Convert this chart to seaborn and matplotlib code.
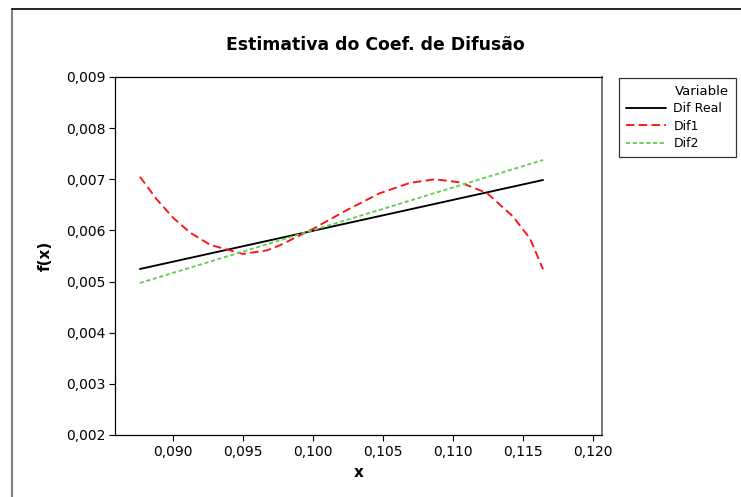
import pandas as pd
import numpy as np
import seaborn as sns
import matplotlib.pyplot as plt
from matplotlib.lines import Line2D
from matplotlib.ticker import FuncFormatter, MultipleLocator

# ---------------- data ----------------
x_real = [0.08764, 0.11643]
dif_real = [0.005246, 0.006986]

x_dif1 = [0.08764, 0.0888, 0.0900, 0.09121, 0.09264, 0.0950, 0.09671, 0.09764, 0.1000,
          0.10243, 0.10479, 0.10693, 0.10871, 0.1105, 0.11243, 0.11429, 0.1155, 0.11643]
dif1 = [0.00705, 0.00662, 0.00625, 0.00596, 0.00572, 0.00554, 0.00561, 0.00571, 0.00603,
        0.00640, 0.00673, 0.00693, 0.00700, 0.00694, 0.00673, 0.00627, 0.00584, 0.00524]

x_dif2 = [0.08764, 0.11643]
dif2 = [0.004972, 0.007377]

series_names = ["Dif Real", "Dif1", "Dif2"]
colors = {"Dif Real": "black", "Dif1": "#FF1010", "Dif2": "#66CC55"}
dash_styles = {"Dif Real": "", "Dif1": (4.5, 2.3), "Dif2": (2.2, 1.4)}

df = pd.concat([
    pd.DataFrame({"x": x_real, "f(x)": dif_real, "Variable": "Dif Real"}),
    pd.DataFrame({"x": x_dif1, "f(x)": dif1, "Variable": "Dif1"}),
    pd.DataFrame({"x": x_dif2, "f(x)": dif2, "Variable": "Dif2"}),
], ignore_index=True)

# ---------------- plot ----------------
sns.set_style("ticks")
plt.rcParams["font.family"] = ["DejaVu Sans"]
plt.rcParams["text.color"] = "black"
plt.rcParams["axes.labelcolor"] = "black"

fig = plt.figure(figsize=(7.41, 4.97), dpi=100)
ax = fig.add_axes([115 / 741, 62 / 497, 487 / 741, 358 / 497])

sns.lineplot(data=df, x="x", y="f(x)", hue="Variable", style="Variable",
             hue_order=series_names, style_order=series_names,
             palette=colors, dashes=dash_styles, linewidth=1.35,
             sort=False, ax=ax)

ax.set_xlim(0.08586, 0.12064)
ax.set_ylim(0.002, 0.009)
ax.xaxis.set_major_locator(MultipleLocator(0.005))
ax.yaxis.set_major_locator(MultipleLocator(0.001))
comma = FuncFormatter(lambda v, pos: f"{v:.3f}".replace(".", ","))
ax.xaxis.set_major_formatter(comma)
ax.yaxis.set_major_formatter(comma)
ax.tick_params(axis="both", direction="out", length=4, width=0.8,
               labelsize=10, pad=3, colors="black")

for side in ["left", "bottom", "top"]:
    ax.spines[side].set_visible(True)
    ax.spines[side].set_color("black")
    ax.spines[side].set_linewidth(0.9)
ax.spines["right"].set_visible(True)
ax.spines["right"].set_color("#777777")
ax.spines["right"].set_linewidth(1.4)

ax.set_xlabel("x", fontsize=11, fontweight="bold", va="center")
ax.set_ylabel("f(x)", fontsize=11, fontweight="bold", va="center")
ax.xaxis.set_label_coords(0.5, -0.106)
ax.yaxis.set_label_coords(-0.144, 0.5)

fig.text(375 / 741, 1 - 45 / 497, "Estimativa do Coef. de Difusão",
         ha="center", va="center", fontsize=12.4, fontweight="bold",
         color="black")

# legend placed outside on the right, like the Minitab output
handles, labels = ax.get_legend_handles_labels()
ax.get_legend().remove()
top = 1 - 78 / 497
leg = fig.legend(handles, labels, title="Variable", loc="upper left",
                 bbox_to_anchor=(619 / 741, top - 0.1, 117 / 741, 0.1),
                 mode="expand", borderaxespad=0, frameon=True, fancybox=False,
                 edgecolor="black", fontsize=9, title_fontsize=9.5,
                 handlelength=3.2, handletextpad=0.6, labelspacing=0.35,
                 borderpad=0.55, alignment="right")
leg.get_frame().set_linewidth(0.9)
for t in leg.get_texts():
    t.set_color("black")
leg.get_title().set_color("black")

# window frame lines seen at the top/left edge of the screenshot
fig.add_artist(Line2D([12 / 741, 12 / 741], [0, 1 - 9 / 497],
                      color="#808080", linewidth=1.5))
fig.add_artist(Line2D([12 / 741, 1], [1 - 9 / 497, 1 - 9 / 497],
                      color="black", linewidth=1.2))

fig.savefig("out.png", dpi=100)
